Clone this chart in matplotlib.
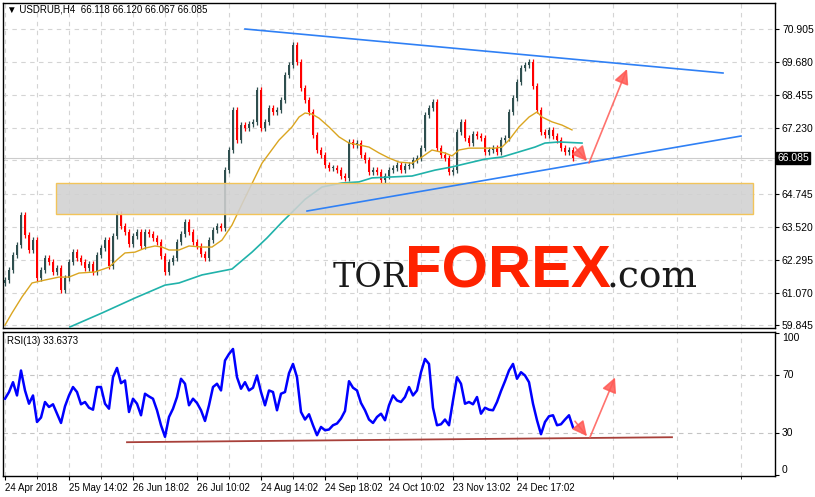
import matplotlib
matplotlib.use("Agg")
import matplotlib.pyplot as plt
from matplotlib.patches import Rectangle

plt.rcParams["font.family"] = ["Liberation Sans", "DejaVu Sans"]

# USDRUB H4, thinned out to one bar per column
closes = [
    61.54, 61.91, 62.47, 62.85, 63.97, 63.22, 62.66, 63.03, 61.61, 61.91,
    62.36, 62.21, 61.84, 61.99, 61.17, 61.61, 62.21, 62.58, 62.36, 62.21,
    61.99, 62.14, 61.84, 62.47, 62.73, 63.03, 62.06, 63.18, 64.00, 63.55,
    63.33, 62.88, 63.18, 63.33, 62.81, 63.33, 63.26, 63.11, 62.96, 62.44,
    61.84, 62.21, 62.36, 62.96, 63.26, 63.70, 63.33, 62.96, 62.81, 62.51,
    62.36, 63.03, 63.41, 63.55, 63.48, 65.64, 66.39, 67.88, 66.76, 67.32,
    67.21, 67.36, 67.43, 68.63, 67.21, 67.43, 67.96, 67.81, 67.88, 68.26,
    69.19, 69.56, 70.31, 69.67, 68.70, 68.26, 67.81, 66.95, 66.39, 66.20,
    65.83, 65.72, 65.72, 65.64, 65.42, 65.35, 66.69, 66.58, 66.65, 66.20,
    66.02, 65.57, 65.64, 65.57, 65.27, 65.42, 65.64, 65.72, 65.83, 65.64,
    65.79, 65.83, 66.02, 66.09, 66.46, 67.70, 67.96, 68.18, 66.46, 66.20,
    66.09, 65.57, 65.64, 67.06, 67.43, 66.84, 66.65, 66.99, 66.91, 66.84,
    66.32, 66.39, 66.46, 66.32, 66.76, 66.84, 67.81, 68.33, 68.93, 69.45,
    69.56, 69.67, 68.78, 67.88, 67.06, 66.95, 67.14, 66.91, 66.76, 66.46,
    66.32, 66.39, 66.085,
]

# RSI(13), same bars
rsi_values = [
    53.7, 58.4, 65.3, 56.0, 73.5, 59.5, 50.2, 56.0, 37.4, 40.5,
    51.4, 47.9, 49.8, 43.2, 36.7, 48.4, 56.0, 61.9, 58.4, 49.8,
    51.4, 47.4, 46.0, 61.9, 61.9, 50.2, 46.7, 68.8, 75.3, 64.6,
    66.5, 44.4, 53.7, 50.2, 42.1, 57.2, 55.3, 53.7, 45.6, 35.1,
    27.0, 40.9, 46.7, 54.9, 67.7, 64.2, 49.1, 53.7, 50.7, 45.6,
    38.1, 49.1, 61.9, 64.2, 59.5, 80.5, 85.1, 88.6, 68.8, 60.7,
    65.3, 59.5, 61.4, 70.0, 58.4, 49.1, 59.5, 58.4, 45.6, 57.2,
    58.4, 71.6, 78.1, 68.8, 44.4, 39.1, 42.8, 35.1, 28.1, 33.9,
    31.6, 32.1, 35.1, 36.3, 39.8, 45.1, 66.0, 61.4, 59.5, 50.7,
    45.6, 39.1, 36.7, 40.9, 43.2, 38.6, 49.1, 56.0, 52.5, 51.4,
    54.9, 61.9, 56.0, 59.5, 72.3, 81.6, 78.1, 47.4, 35.1, 35.8,
    39.1, 35.1, 52.5, 68.8, 64.2, 50.2, 51.4, 49.8, 54.9, 43.2,
    47.4, 46.0, 45.6, 51.4, 59.1, 66.0, 73.5, 78.1, 67.7, 72.3,
    70.0, 65.3, 50.2, 38.6, 28.8, 37.4, 41.4, 42.1, 35.1, 35.8,
    39.1, 42.1, 33.6,
]

# moving averages, read at a few bars
ma_fast_bars = [0, 1.75, 4.25, 6.75, 10, 13.5, 16, 18.5, 22.5, 26,
                28.5, 30, 32.5, 35, 37.5, 39.25, 41, 43.5, 46, 49.25,
                51.75, 54.25, 56.75, 59.75, 64.25, 68.5, 71.75, 73.5, 75, 76.75,
                78.5, 81, 83.5, 86, 88.5, 91, 93.5, 96, 98.5, 101.75,
                104.25, 106.75, 110, 111.75, 113.5, 116, 119.25, 122.5, 124.25, 126,
                128.5, 131, 133, 134.25, 136.75, 139.25, 141.75]
ma_fast_values = [59.86, 60.31, 60.91, 61.43, 61.54, 61.65, 61.65, 61.80, 61.84, 62.02,
                  62.36, 62.55, 62.58, 62.73, 62.81, 62.77, 62.66, 62.66, 62.81, 62.77,
                  62.77, 63.03, 63.59, 64.53, 65.90, 66.76, 67.25, 67.62, 67.77, 67.73,
                  67.58, 67.25, 66.88, 66.65, 66.58, 66.50, 66.28, 66.09, 65.94, 65.90,
                  66.13, 66.39, 66.28, 66.17, 66.39, 66.46, 66.46, 66.46, 66.50, 66.76,
                  67.25, 67.62, 67.81, 67.62, 67.44, 67.32, 67.14]
ma_slow_bars = [16.25, 24.25, 32.5, 40, 43.5, 49.25, 56.75, 61.75, 65.5, 69.25,
                73, 75, 79.25, 84.25, 88.5, 91.75, 96, 101.75, 107.5, 111.75,
                116, 120, 124.25, 128.5, 132.5, 135, 138.5, 144.25]
ma_slow_values = [59.79, 60.31, 60.87, 61.35, 61.43, 61.73, 61.95, 62.58, 63.11, 63.70,
                  64.25, 64.55, 65.01, 65.16, 65.20, 65.35, 65.38, 65.42, 65.64, 65.76,
                  65.91, 66.05, 66.13, 66.32, 66.50, 66.65, 66.69, 66.65]

# analyst drawings
upper_line_bars = [60, 179.5]
upper_line_prices = [70.905, 69.263]
lower_line_bars = [75.5, 184]
lower_line_prices = [64.114, 66.912]
zone_bars = [12.75, 187]
zone_prices = [64.00, 65.16]
rsi_line_bars = [30.5, 166.75]
rsi_line_values = [23.2, 26.7]
price_arrows = [((142.5, 66.50), (145.5, 65.98)), ((146, 65.905), (155.5, 69.41))]
rsi_arrows = [((142.5, 37.9), (145.5, 27.4)), ((146.25, 26.7), (152.5, 68.6))]

price_ticks = [59.845, 61.070, 62.295, 63.520, 64.745, 66.005, 67.230, 68.455, 69.680, 70.905]
price_tick_labels = ["59.845", "61.070", "62.295", "63.520", "64.745", "", "67.230", "68.455", "69.680", "70.905"]
date_ticks = [0, 16, 32, 48, 64, 80, 96, 112, 128]
date_labels = ["24 Apr 2018", "25 May 14:02", "26 Jun 18:02", "26 Jul 10:02", "24 Aug 14:02",
               "24 Sep 18:02", "24 Oct 10:02", "23 Nov 13:02", "24 Dec 17:02"]

BULL = "#2F4F4F"
BEAR = "#FF0000"
GRID = "#D4D4D4"
ARROW = "#FF5A55"
WICK = 0.12

bars = list(range(len(closes)))
opens = [closes[0] - 0.1] + closes[:-1]
colors = [BULL if c >= o else BEAR for o, c in zip(opens, closes)]
bottoms = [min(o, c) for o, c in zip(opens, closes)]
heights = [max(abs(c - o), 0.03) for o, c in zip(opens, closes)]
highs = [max(o, c) + WICK for o, c in zip(opens, closes)]
lows = [min(o, c) - WICK for o, c in zip(opens, closes)]

fig = plt.figure(figsize=(8.15, 4.97), dpi=100)
ax = fig.add_axes([3 / 815, 169 / 497, 772 / 815, 325 / 497])
rsi_ax = fig.add_axes([3 / 815, 21 / 497, 772 / 815, 144 / 497], sharex=ax)

# --- price panel ---
ax.vlines(bars, lows, highs, colors=colors, lw=0.9, zorder=3)
ax.bar(bars, heights, bottom=bottoms, width=0.6, color=colors, zorder=3)
ax.plot(ma_fast_bars, ma_fast_values, color="#DAA520", lw=1.0, zorder=4)
ax.plot(ma_slow_bars, ma_slow_values, color="#20B2AA", lw=1.2, zorder=4)
ax.axhline(closes[-1], color="#CCCCCC", lw=0.8, zorder=1)

ax.add_patch(Rectangle((zone_bars[0], zone_prices[0]), zone_bars[1] - zone_bars[0],
                       zone_prices[1] - zone_prices[0], facecolor=(0.82, 0.82, 0.82, 0.88),
                       edgecolor="#F2C45A", lw=1.0, zorder=5))
ax.plot(upper_line_bars, upper_line_prices, color="#2F80F5", lw=1.2, zorder=6)
ax.plot(lower_line_bars, lower_line_prices, color="#2F80F5", lw=1.2, zorder=6)
for start, end in price_arrows:
    ax.annotate("", xy=end, xytext=start, zorder=7,
                arrowprops=dict(arrowstyle="-|>,head_length=0.9,head_width=0.45",
                                color=ARROW, lw=1.2, alpha=0.85, shrinkA=0, shrinkB=0))

ax.set_xlim(-0.5, 192.5)
ax.set_ylim(59.75, 71.875)
ax.yaxis.tick_right()
ax.set_yticks(price_ticks)
ax.set_yticklabels(price_tick_labels)
ax.tick_params(axis="y", direction="out", length=3, width=0.8, labelsize=7.5, pad=2)
ax.tick_params(axis="x", length=0, labelbottom=False)
ax.set_xticks(date_ticks)
ax.set_xticks(range(8, 193, 16), minor=True)
ax.tick_params(axis="x", which="minor", length=0)
ax.grid(True, which="both", axis="x", color=GRID, ls=(0, (4, 4)), lw=0.8, zorder=0)
ax.grid(True, which="major", axis="y", color=GRID, ls=(0, (4, 4)), lw=0.8, zorder=0)
ax.set_axisbelow(True)

ax.text(1.003, closes[-1], f"{closes[-1]:.3f}", transform=ax.get_yaxis_transform(),
        color="white", fontsize=7.5, va="center", ha="left",
        bbox=dict(boxstyle="square,pad=0.12", facecolor="black", edgecolor="black"))

# --- RSI panel ---
rsi_ax.plot(bars, rsi_values, color="#0000FF", lw=1.8, zorder=4)
rsi_ax.plot(rsi_line_bars, rsi_line_values, color="#A8403A", lw=1.3, zorder=3)
for level in (30, 70):
    rsi_ax.axhline(level, color="#C4C4C4", ls=(0, (4, 4)), lw=0.8, zorder=0)
for start, end in rsi_arrows:
    rsi_ax.annotate("", xy=end, xytext=start, zorder=7,
                    arrowprops=dict(arrowstyle="-|>,head_length=0.9,head_width=0.45",
                                    color=ARROW, lw=1.2, alpha=0.85, shrinkA=0, shrinkB=0))

rsi_ax.set_ylim(-0.5, 100.5)
rsi_ax.yaxis.tick_right()
rsi_ax.set_yticks([0, 30, 70, 100])
rsi_ax.set_yticklabels(["0", "30", "70", "100"])
for lab, va in zip(rsi_ax.get_yticklabels(), ["bottom", "center", "center", "top"]):
    lab.set_va(va)
rsi_ax.tick_params(axis="y", direction="out", length=3, width=0.8, labelsize=7.5, pad=2)
rsi_ax.set_xticks(date_ticks)
rsi_ax.set_xticklabels(date_labels)
for lab in rsi_ax.get_xticklabels():
    lab.set_ha("left")
rsi_ax.tick_params(axis="x", direction="out", length=3, width=0.8, labelsize=7, pad=2)
rsi_ax.grid(True, which="both", axis="x", color=GRID, ls=(0, (4, 4)), lw=0.8, zorder=0)
rsi_ax.set_axisbelow(True)

for a in (ax, rsi_ax):
    for s in a.spines.values():
        s.set_color("black")
        s.set_linewidth(1.0)

# headers
fig.text(7 / 815, 1 - 10 / 497, "\u25BC USDRUB,H4  66.118 66.120 66.067 66.085",
         fontsize=7, va="center", ha="left", family=["Liberation Sans", "DejaVu Sans"])
fig.text(7 / 815, 1 - 341 / 497, "RSI(13) 33.6373", fontsize=7, va="center", ha="left")

# watermark
fig.text(333 / 815, 1 - 287 / 497, "TOR", fontsize=24, color="#1A1A1A",
         family="DejaVu Serif", va="baseline", ha="left")
fig.text(405 / 815, 1 - 287 / 497, "FOREX", fontsize=43, color="#FF2200",
         fontweight="bold", va="baseline", ha="left")
fig.text(606 / 815, 1 - 287 / 497, ".com", fontsize=27, color="#1A1A1A",
         family="DejaVu Serif", va="baseline", ha="left")

fig.savefig("out.png", dpi=100)
